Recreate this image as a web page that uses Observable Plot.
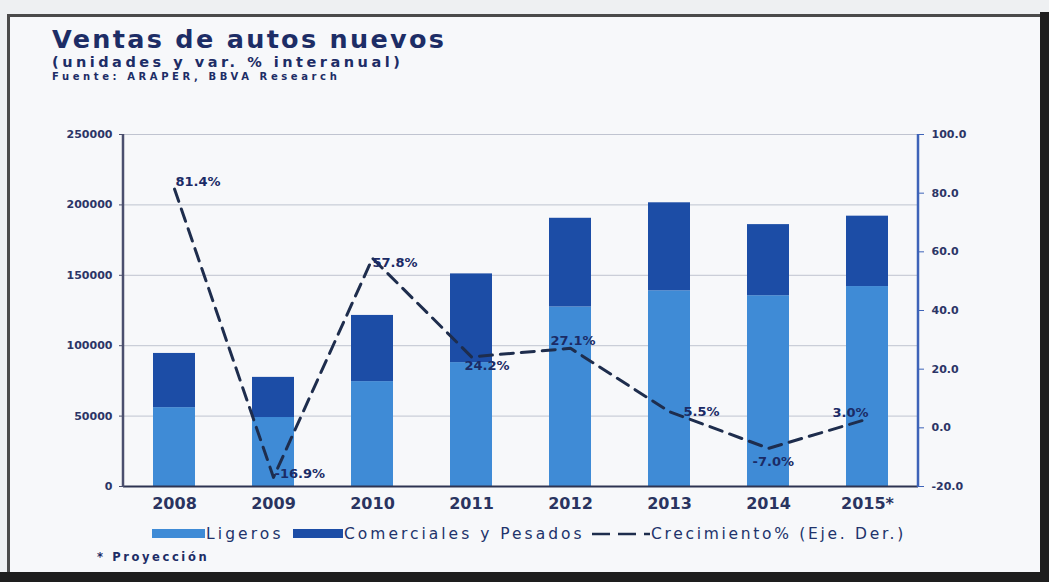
<!DOCTYPE html>
<html>
<head>
<meta charset="utf-8">
<script src="https://cdn.jsdelivr.net/npm/d3@7"></script>
<script src="https://cdn.jsdelivr.net/npm/@observablehq/plot@0.6"></script>
<style>
  html, body { margin: 0; padding: 0; }
  body { width: 1049px; height: 582px; background: #eef0f2; position: relative; overflow: hidden; font-family: "DejaVu Sans", sans-serif; }
  #frame { position: absolute; left: 7px; top: 14px; width: 1033px; height: 558px; background: #f7f8fa;
           border-top: 3px solid #4a4a4a; border-left: 3px solid #4a4a4a; box-sizing: border-box; }
  #rb { position: absolute; left: 1040px; top: 12px; width: 9px; height: 570px; background: #1e1e1e; }
  #bb { position: absolute; left: 0; top: 572px; width: 1049px; height: 10px; background: #1e1e1e; }
  .t { position: absolute; white-space: nowrap; color: #1d2d66; font-weight: bold; line-height: normal; }
  #title { left: 52px; top: 24px; font-size: 25.5px; letter-spacing: 2.3px; }
  #subtitle { left: 52px; top: 54px; font-size: 14.5px; letter-spacing: 3.5px; }
  #source { left: 52px; top: 71px; font-size: 10px; letter-spacing: 3.6px; }
  #chart { position: absolute; left: 0; top: 120px; }
  .lg { position: absolute; white-space: nowrap; color: #21336b; font-size: 15.5px; line-height: 18px; top: 525px; }
  .sw { position: absolute; top: 529px; height: 9px; }
  #note { left: 97px; top: 550px; font-size: 11.5px; letter-spacing: 2.6px; }
</style>
</head>
<body>
<div id="frame"></div>
<div id="rb"></div>
<div id="bb"></div>
<div class="t" id="title">Ventas de autos nuevos</div>
<div class="t" id="subtitle">(unidades y var. % interanual)</div>
<div class="t" id="source">Fuente: ARAPER, BBVA Research</div>
<div id="chart"></div>
<div class="sw" style="left:152px;width:53px;background:#3f8bd6"></div>
<div class="lg" style="left:206px;letter-spacing:3.1px;">Ligeros</div>
<div class="sw" style="left:293px;width:50px;background:#1c4da6"></div>
<div class="lg" style="left:344px;letter-spacing:3px;">Comerciales y Pesados</div>
<svg style="position:absolute;left:592px;top:530px" width="58" height="8"><line x1="0" y1="4" x2="58" y2="4" stroke="#1e2d4d" stroke-width="2.5" stroke-dasharray="18,8"/></svg>
<div class="lg" style="left:651px;letter-spacing:2.7px;">Crecimiento% (Eje. Der.)</div>
<div class="t" id="note">* Proyección</div>
<script>
const years = ["2008", "2009", "2010", "2011", "2012", "2013", "2014", "2015*"];
const ligeros = [56000, 49000, 74500, 88000, 127500, 139000, 135500, 142000];
const comerciales = [38500, 28500, 47000, 63000, 63000, 62500, 50500, 50000];
const growth = [81.4, -16.9, 57.8, 24.2, 27.1, 5.5, -7.0, 3.0];
const growthLabels = ["81.4%", "-16.9%", "57.8%", "24.2%", "27.1%", "5.5%", "-7.0%", "3.0%"];
const leftTicks = [0, 50000, 100000, 150000, 200000, 250000];
const rightTicks = [-20, 0, 20, 40, 60, 80, 100];
const seriesNames = ["Ligeros", "Comerciales y Pesados"];

// label placement (layout only)
const labelOffsets = [[1, -7], [1, -4], [0, 5], [-7, 9], [-20, -8], [14, 0], [-16, 13], [-35, -6]];

const leftMax = 250000, rMin = -20, rMax = 100;
const toUnits = g => (g - rMin) / (rMax - rMin) * leftMax;
const fromUnits = u => u / leftMax * (rMax - rMin) + rMin;

const stacked = [];
years.forEach((y, i) => {
  stacked.push({year: y, type: seriesNames[0], value: ligeros[i]});
  stacked.push({year: y, type: seriesNames[1], value: comerciales[i]});
});
const gdata = years.map((y, i) => ({year: y, g: growth[i], label: growthLabels[i]}));

const labelColor = "#1b2b66";
const tickColor = "#2c3566";

const chart = Plot.plot({
  width: 1049,
  height: 400,
  marginLeft: 123,
  marginRight: 131,
  marginTop: 14,
  marginBottom: 34,
  style: {background: "transparent", fontFamily: "DejaVu Sans", overflow: "visible"},
  x: {domain: years, paddingInner: 0.58, paddingOuter: 0.29, axis: null, label: null},
  y: {domain: [0, leftMax], axis: null, label: null},
  color: {domain: seriesNames, range: ["#3f8bd6", "#1c4da6"]},
  marks: [
    Plot.gridY(leftTicks, {stroke: "#a8aebd", strokeOpacity: 0.7, strokeWidth: 1}),
    Plot.barY(stacked, {x: "year", y: "value", fill: "type"}),
    Plot.axisY({ticks: leftTicks, tickFormat: d => String(d), tickSize: 4, tickPadding: 7,
      fontSize: 11, fontWeight: "bold", fill: tickColor, stroke: "#4b4f6e", label: null,
      style: {letterSpacing: "1.8px"}}),
    Plot.axisY({anchor: "right", ticks: rightTicks.map(toUnits), tickFormat: d => fromUnits(d).toFixed(1),
      tickSize: 5, tickPadding: 8, fontSize: 11, fontWeight: "bold", fill: tickColor, stroke: "#3e63b8",
      label: null, style: {letterSpacing: "1.5px"}}),
    Plot.axisX({tickSize: 0, tickPadding: 11, fontSize: 16, fontWeight: "bold", fill: "#2a3460",
      label: null, style: {letterSpacing: "1.8px"}}),
    Plot.ruleY([0], {stroke: "#2e3452", strokeWidth: 2}),
    Plot.line(gdata, {x: "year", y: d => toUnits(d.g), stroke: "#1e2d4d", strokeWidth: 3,
      strokeDasharray: "13,8"}),
    ...gdata.map((d, i) => Plot.text([d], {x: "year", y: dd => toUnits(dd.g), text: "label",
      textAnchor: "start", dx: labelOffsets[i][0], dy: labelOffsets[i][1],
      fontSize: 13, fontWeight: "bold", fill: labelColor, style: {letterSpacing: "2.6px"}}))
  ]
});

// axis lines drawn from the plot's own scales
const xr = chart.scale("x").range, yr = chart.scale("y").range;
const svg = d3.select(chart);
svg.append("line").attr("x1", xr[0]).attr("x2", xr[0]).attr("y1", yr[0] + 1).attr("y2", yr[1])
  .attr("stroke", "#4b4f6e").attr("stroke-width", 2.5);
svg.append("line").attr("x1", xr[1]).attr("x2", xr[1]).attr("y1", yr[0] + 1).attr("y2", yr[1])
  .attr("stroke", "#3e63b8").attr("stroke-width", 2.5);

document.getElementById("chart").appendChild(chart);
</script>
</body>
</html>
